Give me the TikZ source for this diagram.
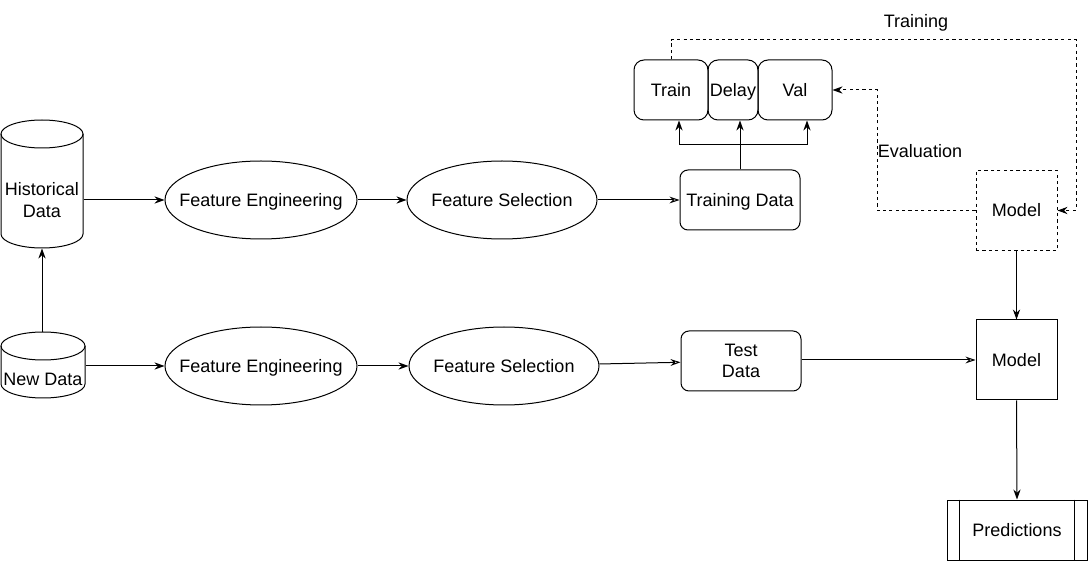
\documentclass[tikz,border=0pt]{standalone}
\usepackage{fontspec}
\setmainfont{Liberation Sans}
\usetikzlibrary{arrows.meta,shapes.geometric}

\newcommand\ztext[1]{\makebox[0pt]{#1}}

\begin{document}
\begin{tikzpicture}[x=0.5pt, y=0.5pt, line width=0.5pt,
    font=\fontsize{9}{10.8}\selectfont,
    every node/.style={align=center, inner sep=0pt},
    oneline/.style={text height=7.6pt, text depth=1.2pt},
    arr/.style={-{Stealth[length=5pt,width=3.6pt]}},
    sketch/.style={-{Stealth[open,length=5pt,width=3.4pt]}},
    dash line/.style={dash pattern=on 1.6pt off 1.6pt},
    ellip/.style={draw, ellipse, oneline, minimum width=96pt, minimum height=39pt},
    rbox/.style={draw, rounded corners=4pt, minimum width=60pt, minimum height=30pt},
    slot/.style={draw, oneline, rounded corners=5pt, minimum height=30pt},
    sbox/.style={draw, oneline, minimum width=40.5pt, minimum height=40pt}]
  \useasboundingbox (0, 0) rectangle (1088, -561);

  \draw (1, -134) -- (1, -234) arc[start angle=180, end angle=360, x radius=41, y radius=14] -- (83, -134);
  \draw (42, -134) ellipse[x radius=41, y radius=14];
  \node[minimum width=41pt, minimum height=48pt] (hist) at (42, -200) {Historical\\Data};

  \draw (1, -346) -- (1, -384) arc[start angle=180, end angle=360, x radius=42, y radius=14] -- (85, -346);
  \draw (43, -346) ellipse[x radius=42, y radius=14];
  \node[oneline, minimum width=42pt, minimum height=19pt] (newdata) at (43, -379) {New Data};
  \coordinate (ndtop) at (42, -332);

  \node[ellip] (fe1) at (261, -200) {\ztext{Feature Engineering}};
  \node[ellip] (fe2) at (261, -366) {\ztext{Feature Engineering}};
  \node[ellip, minimum width=95pt] (fs1) at (502, -200) {\ztext{Feature Selection}};
  \node[ellip, minimum width=95pt] (fs2) at (504, -366) {\ztext{Feature Selection}};

  \node[rbox, oneline] (td) at (740, -200) {Training Data};
  \node[rbox] (ted) at (741, -361) {Test\\Data};

  \node[slot, minimum width=37pt] (tr) at (671, -90) {Train};
  \node[slot, minimum width=25pt] (dl) at (733, -90) {Delay};
  \node[slot, minimum width=37pt] (vl) at (795, -90) {Val};

  \node[sbox, dash line] (md1) at (1016.5, -210.5) {Model};
  \node[sbox] (md2) at (1016.5, -360) {Model};

  \node[draw, oneline, minimum width=70pt, minimum height=30pt] (pred) at (1017, -530) {Predictions};
  \draw ([xshift=6.5pt]pred.north west) -- ([xshift=6.5pt]pred.south west);
  \draw ([xshift=-6.5pt]pred.north east) -- ([xshift=-6.5pt]pred.south east);

  \node[oneline] (trlbl) at (916, -21) {Training};
  \node[oneline] (evlbl) at (920, -151) {Evaluation};

  \draw[arr] (fe1.west -| hist.east) -- (fe1.west);
  \draw[arr] (fe2.west -| newdata.east) -- (fe2.west);
  \draw[arr] (ndtop) -- (hist.south);
  \draw[arr] (fe1) -- (fs1);
  \draw[arr] (fe2) -- (fs2);
  \draw[sketch] (fs1) -- (td);
  \draw[sketch] (fs2) -- (ted);

  \coordinate (trin) at (679, -145);
  \coordinate (vlin) at (807, -145);
  \draw[arr] (td.north) -- (td.north |- dl.south);
  \draw (trin) -- (vlin);
  \draw[arr] (trin) -- (trin |- tr.south);
  \draw[arr] (vlin) -- (vlin |- vl.south);

  \coordinate (trtop) at (1076, -40);
  \coordinate (evcorner) at (877, -90);
  \draw[arr, dash line] (tr.north) |- (trtop) |- (md1.east);
  \draw[arr, dash line] (md1.west) -| (evcorner) -- (vl.east);

  \draw[arr] (md1.south) -- (md2.north);
  \draw[sketch] (ted.east |- md2) -- (md2.west);
  \draw[arr] (md2.south) -- (pred.north);
\end{tikzpicture}
\end{document}
